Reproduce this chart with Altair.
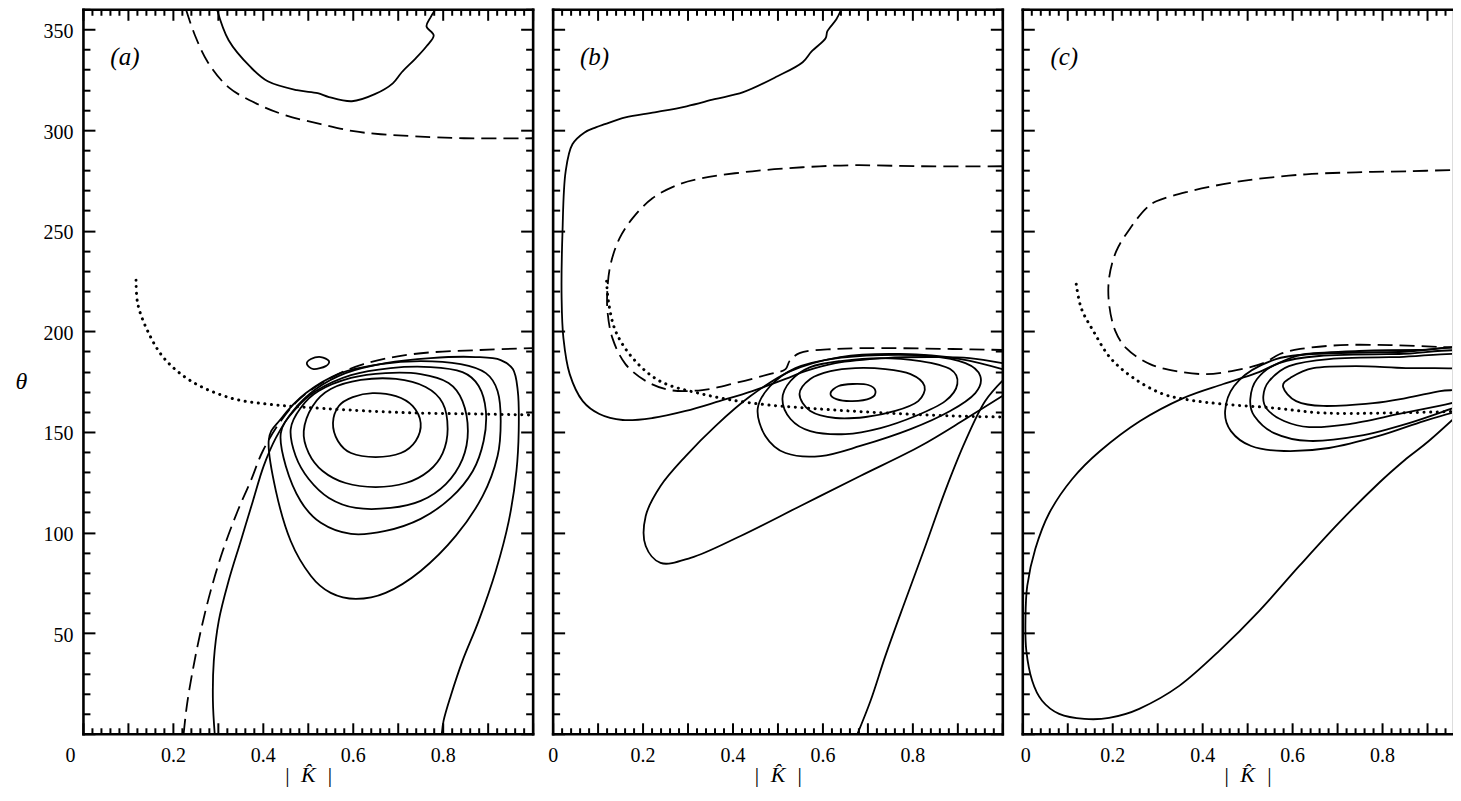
import altair as alt
import pandas as pd

W, H = 450, 725
WC = 430                      # visible part of panel (c); the page cuts it there
XMAX_C = WC / W               # matching x extent of panel (c)
FONT = "Liberation Serif"

# tick / label values
X_LABELS = [0, 0.2, 0.4, 0.6, 0.8]
X_TICKS = [round(i * 0.02, 2) for i in range(51)]
Y_LABELS = [50, 100, 150, 200, 250, 300, 350]
Y_TICKS = list(range(0, 361, 10))

# ---------------- panel (a) ----------------
A_TOP_SOLID_X = [0.298, 0.324, 0.373, 0.411, 0.476, 0.522, 0.547, 0.598, 0.649, 0.689, 0.709, 0.740, 0.764, 0.780, 0.764, 0.773, 0.784]
A_TOP_SOLID_T = [360.0, 344.6, 331.2, 324.2, 319.8, 318.3, 316.4, 314.3, 317.8, 323.2, 328.7, 335.6, 341.6, 347.0, 351.5, 356.0, 360.0]
A_TOP_DASH_X = [0.229, 0.249, 0.278, 0.324, 0.389, 0.451, 0.529, 0.602, 0.662, 0.736, 0.847, 1.0]
A_TOP_DASH_T = [360.0, 347.1, 333.6, 321.2, 312.8, 307.3, 302.9, 299.4, 297.9, 296.9, 295.9, 295.9]
A_DOT_X = [0.118, 0.122, 0.144, 0.180, 0.240, 0.329, 0.411, 0.484, 0.589, 0.736, 0.884, 1.0]
A_DOT_T = [225.4, 213.5, 200.1, 186.7, 175.3, 166.8, 163.8, 162.4, 160.9, 159.4, 158.9, 158.4]
A_LOW_DASH_X = [0.224, 0.231, 0.244, 0.262, 0.284, 0.311, 0.344, 0.373, 0.400, 0.440, 0.484, 0.551, 0.624, 0.736, 0.884, 1.0]
A_LOW_DASH_T = [0.0, 13.9, 31.3, 51.1, 71.0, 90.9, 110.7, 125.6, 140.5, 155.4, 166.8, 176.8, 183.7, 188.7, 190.7, 191.6]
A_OUTER_X = [0.293, 0.289, 0.291, 0.302, 0.324, 0.351, 0.378, 0.402, 0.429, 0.467, 0.518, 0.584, 0.673, 0.773, 0.873, 0.929, 0.956, 0.967, 0.969, 0.964, 0.947, 0.918, 0.880, 0.844, 0.818, 0.802, 0.798]
A_OUTER_T = [0.0, 16.4, 36.2, 56.1, 76.0, 95.8, 115.7, 133.1, 147.0, 160.4, 171.3, 179.2, 184.2, 186.7, 187.2, 185.7, 181.2, 170.3, 150.4, 130.6, 105.8, 80.9, 56.1, 36.2, 18.9, 6.5, 0.0]
A_ISLAND_X = [0.498, 0.507, 0.529, 0.547, 0.540, 0.513]
A_ISLAND_T = [183.7, 186.2, 187.2, 185.2, 182.7, 181.2]
A_L5_X = [0.413, 0.429, 0.462, 0.507, 0.551, 0.607, 0.673, 0.751, 0.829, 0.889, 0.922, 0.929, 0.922, 0.896, 0.840, 0.751, 0.662, 0.573, 0.496, 0.440]
A_L5_T = [145.5, 120.7, 95.8, 78.4, 70.0, 67.0, 70.0, 80.9, 98.3, 118.2, 138.0, 155.4, 170.3, 179.2, 183.7, 185.2, 183.7, 179.2, 169.3, 156.4]
A_L4_X = [0.440, 0.451, 0.484, 0.529, 0.596, 0.673, 0.751, 0.818, 0.867, 0.891, 0.896, 0.880, 0.844, 0.773, 0.684, 0.596, 0.518, 0.469]
A_L4_T = [149.4, 133.1, 115.7, 104.8, 99.3, 100.8, 106.8, 117.2, 130.6, 145.5, 160.4, 172.8, 179.7, 182.2, 181.7, 178.2, 170.3, 160.4]
A_L3_X = [0.462, 0.473, 0.502, 0.547, 0.607, 0.684, 0.751, 0.807, 0.844, 0.856, 0.844, 0.813, 0.751, 0.673, 0.596, 0.524, 0.484]
A_L3_T = [151.4, 138.0, 126.6, 117.2, 112.2, 112.2, 115.7, 124.1, 136.5, 150.4, 165.3, 174.3, 178.7, 179.2, 176.8, 170.3, 161.9]
A_L2_X = [0.491, 0.502, 0.533, 0.584, 0.651, 0.718, 0.769, 0.800, 0.811, 0.800, 0.762, 0.696, 0.618, 0.551, 0.511]
A_L2_T = [150.4, 139.5, 130.6, 124.6, 122.6, 124.6, 130.6, 139.5, 151.4, 164.3, 172.3, 176.3, 175.8, 171.3, 162.9]
A_L1_X = [0.556, 0.569, 0.600, 0.644, 0.696, 0.733, 0.751, 0.740, 0.707, 0.651, 0.596, 0.567]
A_L1_T = [154.4, 162.9, 167.3, 169.3, 167.8, 162.9, 154.4, 145.5, 139.5, 137.5, 139.5, 145.5]

# ---------------- panel (b) ----------------
B_OUTER_X = [0.642, 0.631, 0.611, 0.607, 0.576, 0.556, 0.500, 0.424, 0.360, 0.298, 0.227, 0.162, 0.116, 0.096, 0.071, 0.044, 0.029, 0.022, 0.020, 0.024, 0.038, 0.067, 0.104, 0.156, 0.222, 0.296, 0.371, 0.444, 0.518, 0.562, 0.629, 0.740, 0.851, 0.927, 1.0]
B_OUTER_T = [360.0, 355.0, 349.1, 345.6, 339.1, 333.7, 326.7, 318.8, 315.3, 311.8, 308.8, 306.3, 302.9, 301.3, 298.8, 292.9, 279.5, 249.7, 216.5, 196.6, 178.7, 165.3, 158.9, 155.9, 156.9, 160.4, 165.3, 170.3, 176.3, 180.2, 184.2, 186.7, 187.2, 186.7, 184.2]
B_DASH_X = [1.0, 0.816, 0.667, 0.556, 0.444, 0.333, 0.282, 0.222, 0.178, 0.149, 0.129, 0.122, 0.122, 0.133, 0.162, 0.207, 0.260, 0.333, 0.407, 0.482, 0.518, 0.527, 0.549, 0.629, 0.740, 0.889, 1.0]
B_DASH_T = [282.0, 282.0, 282.5, 281.5, 279.5, 276.1, 273.1, 266.1, 256.2, 246.3, 233.4, 221.4, 210.0, 196.6, 183.7, 175.3, 170.8, 170.8, 174.3, 178.7, 181.2, 185.2, 189.1, 191.2, 191.6, 191.2, 190.7]
B_DOT_X = [0.120, 0.124, 0.140, 0.178, 0.238, 0.333, 0.444, 0.593, 0.740, 0.889, 1.0]
B_DOT_T = [224.9, 215.0, 200.1, 186.7, 175.3, 168.8, 164.3, 161.4, 159.4, 157.9, 157.4]
B_L1_X = [0.618, 0.636, 0.667, 0.702, 0.718, 0.707, 0.667, 0.631]
B_L1_T = [169.3, 172.8, 173.8, 173.3, 170.3, 166.8, 165.3, 166.3]
B_L2_X = [0.549, 0.573, 0.618, 0.673, 0.740, 0.796, 0.827, 0.813, 0.762, 0.696, 0.629, 0.573]
B_L2_T = [168.8, 176.3, 180.2, 181.7, 181.2, 178.7, 172.8, 165.3, 160.4, 157.4, 156.9, 160.4]
B_L3_X = [0.511, 0.529, 0.573, 0.640, 0.729, 0.818, 0.884, 0.900, 0.873, 0.807, 0.729, 0.651, 0.573, 0.529]
B_L3_T = [166.3, 175.3, 182.2, 185.2, 186.7, 185.2, 181.2, 173.8, 165.3, 157.9, 151.9, 148.9, 150.4, 156.4]
B_L4_X = [0.456, 0.484, 0.540, 0.618, 0.729, 0.840, 0.918, 0.951, 0.940, 0.884, 0.796, 0.684, 0.596, 0.518, 0.473]
B_L4_T = [161.4, 172.8, 181.7, 186.2, 188.2, 187.7, 184.2, 177.8, 169.3, 160.4, 151.4, 143.0, 138.0, 139.5, 148.0]
B_L5_X = [1.0, 0.907, 0.773, 0.640, 0.529, 0.440, 0.362, 0.296, 0.240, 0.207, 0.207, 0.240, 0.307, 0.418, 0.551, 0.684, 0.818, 0.918, 1.0]
B_L5_T = [181.2, 186.2, 188.7, 187.2, 180.2, 167.8, 152.9, 138.0, 123.1, 108.2, 93.3, 84.9, 87.4, 98.3, 113.2, 128.1, 143.0, 156.4, 167.8]
B_RIGHT_X = [1.0, 0.962, 0.918, 0.873, 0.829, 0.784, 0.740, 0.707, 0.678]
B_RIGHT_T = [175.3, 165.3, 145.5, 120.7, 93.3, 66.0, 38.7, 16.4, 0.0]

# ---------------- panel (c) ----------------
C_DASH_X = [1.0, 0.973, 0.853, 0.742, 0.631, 0.520, 0.447, 0.373, 0.298, 0.276, 0.240, 0.209, 0.193, 0.193, 0.207, 0.231, 0.284, 0.342, 0.409, 0.476, 0.536, 0.573, 0.618, 0.707, 0.818, 0.929, 1.0]
C_DASH_T = [279.5, 280.0, 279.5, 279.0, 278.0, 275.6, 273.1, 269.6, 264.6, 261.2, 251.2, 239.8, 226.4, 213.5, 200.1, 191.6, 183.7, 180.2, 178.7, 180.7, 184.2, 188.7, 191.2, 193.1, 193.1, 192.2, 191.6]
C_DOT_X = [0.120, 0.131, 0.158, 0.196, 0.247, 0.313, 0.373, 0.447, 0.558, 0.669, 0.818, 1.0]
C_DOT_T = [223.4, 211.5, 200.1, 186.7, 176.8, 168.8, 165.8, 163.8, 161.9, 159.4, 159.4, 160.4]
C_BIG_X = [0.138, 0.082, 0.044, 0.022, 0.009, 0.007, 0.011, 0.029, 0.060, 0.111, 0.173, 0.262, 0.358, 0.447, 0.520, 0.580, 0.631, 0.749, 0.882, 1.0, 1.0, 0.973, 0.904, 0.853, 0.793, 0.704, 0.616, 0.527, 0.438, 0.349, 0.260, 0.193]
C_BIG_T = [7.4, 9.9, 16.4, 26.3, 41.2, 56.1, 73.5, 91.9, 109.7, 126.6, 140.5, 155.4, 166.8, 173.8, 179.2, 185.2, 188.7, 190.2, 190.7, 190.2, 165.3, 159.4, 145.5, 136.5, 124.6, 104.8, 83.4, 61.1, 41.2, 23.8, 12.4, 7.9]
C_L1_X = [0.580, 0.596, 0.647, 0.742, 0.853, 0.973, 1.0, 0.973, 0.929, 0.853, 0.780, 0.669, 0.609]
C_L1_T = [172.3, 176.8, 181.7, 182.7, 181.7, 181.2, 176.3, 171.3, 170.3, 166.8, 164.3, 162.9, 165.3]
C_L2_X = [0.536, 0.549, 0.593, 0.682, 0.838, 1.0, 1.0, 0.973, 0.927, 0.838, 0.727, 0.638, 0.582, 0.544]
C_L2_T = [167.8, 175.3, 182.7, 186.2, 187.2, 187.2, 166.3, 165.3, 162.9, 158.9, 153.9, 152.4, 155.4, 161.4]
C_L3_X = [0.507, 0.522, 0.571, 0.660, 0.838, 1.0, 1.0, 0.973, 0.860, 0.749, 0.638, 0.560, 0.516]
C_L3_T = [166.3, 176.3, 184.2, 187.7, 188.7, 188.7, 163.8, 162.9, 154.4, 148.0, 145.5, 149.4, 157.9]
C_L4_X = [0.451, 0.471, 0.527, 0.616, 0.838, 1.0, 1.0, 0.973, 0.893, 0.793, 0.682, 0.582, 0.509, 0.464]
C_L4_T = [160.4, 172.8, 182.7, 188.2, 189.7, 189.7, 160.4, 160.4, 155.4, 148.0, 142.0, 140.5, 143.0, 150.4]


def curves(spec):
    rows = []
    for cid, (kind, xs, ts) in enumerate(spec):
        assert len(xs) == len(ts)
        for i, (xv, tv) in enumerate(zip(xs, ts)):
            rows.append({"x": xv, "t": tv, "cid": cid, "i": i, "kind": kind})
    return pd.DataFrame(rows)


DF_A = curves([
    ("open", A_TOP_SOLID_X, A_TOP_SOLID_T),
    ("dash", A_TOP_DASH_X, A_TOP_DASH_T),
    ("dot", A_DOT_X, A_DOT_T),
    ("dash", A_LOW_DASH_X, A_LOW_DASH_T),
    ("open", A_OUTER_X, A_OUTER_T),
    ("closed", A_ISLAND_X, A_ISLAND_T),
    ("closed", A_L5_X, A_L5_T),
    ("closed", A_L4_X, A_L4_T),
    ("closed", A_L3_X, A_L3_T),
    ("closed", A_L2_X, A_L2_T),
    ("closed", A_L1_X, A_L1_T),
])
DF_B = curves([
    ("open", B_OUTER_X, B_OUTER_T),
    ("dash", B_DASH_X, B_DASH_T),
    ("dot", B_DOT_X, B_DOT_T),
    ("closed", B_L1_X, B_L1_T),
    ("closed", B_L2_X, B_L2_T),
    ("closed", B_L3_X, B_L3_T),
    ("closed", B_L4_X, B_L4_T),
    ("open", B_L5_X, B_L5_T),
    ("open", B_RIGHT_X, B_RIGHT_T),
])
DF_C = curves([
    ("dash", C_DASH_X, C_DASH_T),
    ("dot", C_DOT_X, C_DOT_T),
    ("closed", C_BIG_X, C_BIG_T),
    ("closed", C_L1_X, C_L1_T),
    ("closed", C_L2_X, C_L2_T),
    ("closed", C_L3_X, C_L3_T),
    ("closed", C_L4_X, C_L4_T),
])

X_TS = {"condition": {"test": "abs(datum.value*10 - round(datum.value*10)) < 0.001", "value": 11}, "value": 6}
Y_TS = {"condition": {"test": "datum.value % 50 === 0", "value": 12}, "value": 7}


def tick_axis(orient, offset, values, ts, domain=True):
    return alt.Axis(orient=orient, offset=offset, values=values, labels=False, domain=domain,
                    domainColor="black", domainWidth=2.6, domainCap="square", minExtent=0,
                    grid=False, ticks=True, tickColor="black", tickWidth=2, tickSize=ts, title=None)


def panel(df, letter, zero_off, show_y, width, xmax, right_edge):
    xsc = alt.Scale(domain=[0, xmax], nice=False, zero=False)
    ysc = alt.Scale(domain=[0, 360], nice=False, zero=False)
    xt = [v for v in X_TICKS if v <= xmax + 1e-9]

    ax_x_lab = alt.Axis(
        orient="bottom", values=X_LABELS, format=".1~f", ticks=False, tickSize=0, domain=False,
        grid=False, labelFont=FONT, labelFontSize=20, labelColor="black", labelPadding=12,
        labelFlush=False, labelOverlap=False,
        labelOffset={"condition": {"test": "datum.value === 0", "value": zero_off}, "value": 0},
        title="|\u00a0\u00a0K\u0302\u00a0\u00a0|", titleFont=FONT, titleFontSize=22,
        titleFontStyle="italic", titleFontWeight="normal", titleColor="black",
        titleX=W / 2, titleY=48, titleAlign="center", titleBaseline="alphabetic")
    if show_y:
        ax_y_lab = alt.Axis(
            orient="left", values=Y_LABELS, format="d", ticks=False, tickSize=0, domain=False,
            grid=False, labelFont=FONT, labelFontSize=20, labelColor="black", labelPadding=10,
            labelBaseline="middle", labelFlush=False, labelOffset=2,
            title="θ", titleFont=FONT, titleFontSize=24, titleFontStyle="italic",
            titleFontWeight="normal", titleColor="black", titleAngle=0,
            titleX=-62, titleY=372, titleAlign="center", titleBaseline="middle")
    else:
        ax_y_lab = None

    if right_edge:
        ax_right = tick_axis("left", -width, Y_TICKS, Y_TS)
    else:
        ax_right = None

    base = alt.Chart(df)
    open_l = base.transform_filter("datum.kind == 'open'").mark_line(
        color="black", strokeWidth=1.8, interpolate="catmull-rom", clip=True).encode(
        x=alt.X("x:Q", scale=xsc, axis=ax_x_lab),
        y=alt.Y("t:Q", scale=ysc, axis=ax_y_lab),
        detail="cid:N", order="i:Q")
    closed_l = base.transform_filter("datum.kind == 'closed'").mark_line(
        color="black", strokeWidth=1.8, interpolate="cardinal-closed", clip=True).encode(
        x=alt.X("x:Q", scale=xsc, axis=tick_axis("top", -H, xt, X_TS)),
        y=alt.Y("t:Q", scale=ysc, axis=tick_axis("right", -width, Y_TICKS, Y_TS)),
        detail="cid:N", order="i:Q")
    dash_l = base.transform_filter("datum.kind == 'dash'").mark_line(
        color="black", strokeWidth=1.8, strokeDash=[15, 7], interpolate="catmull-rom", clip=True).encode(
        x=alt.X("x:Q", scale=xsc, axis=tick_axis("bottom", -H, xt, X_TS)),
        y=alt.Y("t:Q", scale=ysc, axis=ax_right),
        detail="cid:N", order="i:Q")
    dot_l = base.transform_filter("datum.kind == 'dot'").mark_line(
        color="black", strokeWidth=3, strokeDash=[0.1, 6.5], strokeCap="round",
        interpolate="catmull-rom", clip=True).encode(
        x=alt.X("x:Q", scale=xsc, axis=None),
        y=alt.Y("t:Q", scale=ysc, axis=None),
        detail="cid:N", order="i:Q")
    lab = alt.Chart(pd.DataFrame({"lab": [f"({letter})"]})).mark_text(
        font=FONT, fontSize=25, fontStyle="italic", color="black", align="center",
        baseline="middle").encode(text="lab:N", x=alt.value(42), y=alt.value(48))

    return alt.layer(open_l, closed_l, dash_l, dot_l, lab).resolve_scale(
        x="independent", y="independent").properties(width=width, height=H)


chart = alt.hconcat(
    panel(DF_A, "a", -13, True, W, 1.0, True),
    panel(DF_B, "b", 0, False, W, 1.0, True),
    panel(DF_C, "c", 3, False, WC, XMAX_C, False),
    spacing=20, bounds="flush",
).properties(
    padding={"left": 6, "top": -1, "right": 0, "bottom": 0}
).configure_view(strokeWidth=0).configure(background="white")

chart.save("out.html", embed_options={"renderer": "svg", "actions": False})
